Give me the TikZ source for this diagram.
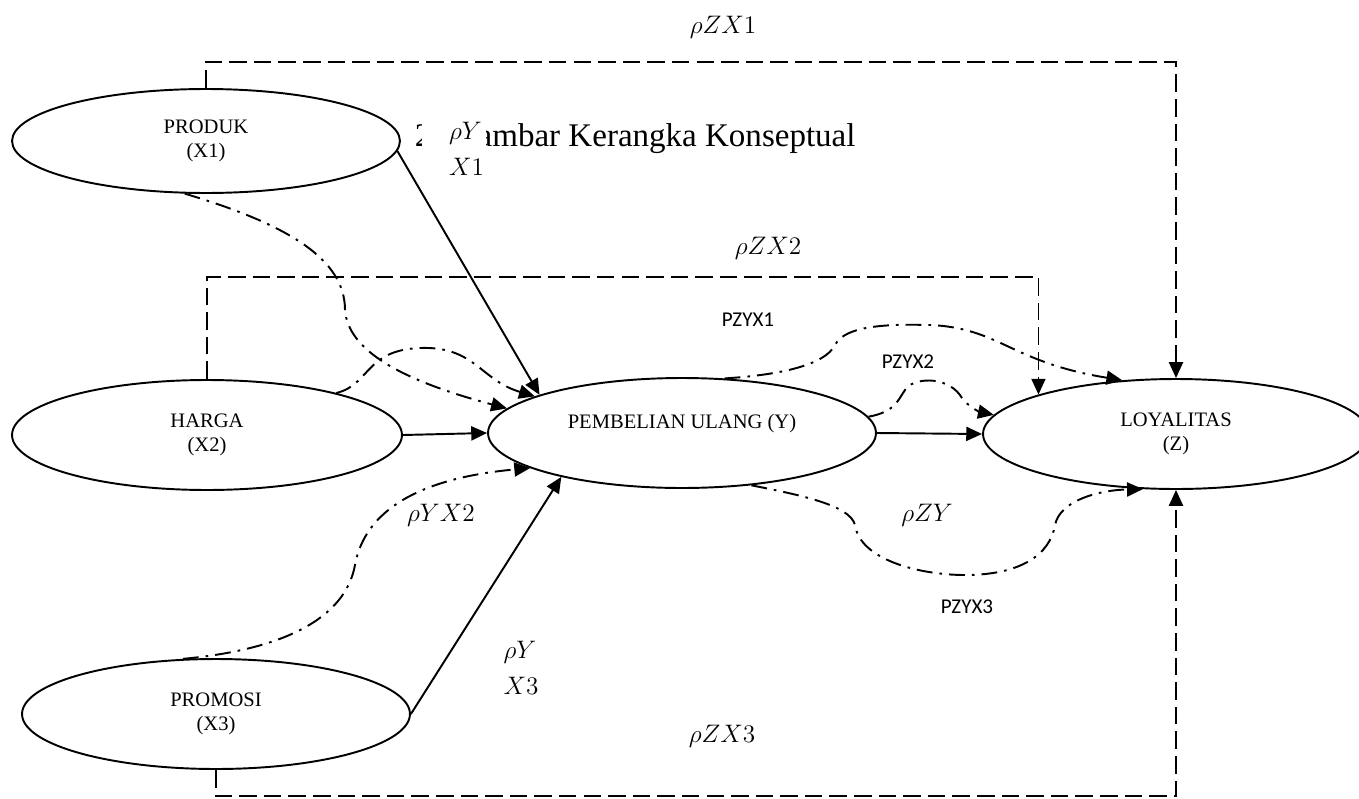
\documentclass[tikz,border=0pt]{standalone}
\usepackage{fontspec}
\setmainfont{Liberation Serif}
\newfontfamily\calfont{Carlito}
\usetikzlibrary{shapes.geometric}
\usetikzlibrary{arrows.meta}

\begin{document}
\begin{tikzpicture}[x=0.02cm,y=-0.02cm,>={Triangle[length=9pt,width=8pt]},line width=1.1pt,
	var node/.style={ellipse,draw,fill=white,inner sep=0pt,align=center,minimum width=7.76cm,minimum height=2.2cm,font=\fontsize{11.7}{13.8}\selectfont},
	rho/.style={font=\fontsize{14}{20.4}\selectfont,inner sep=1pt},
	pz/.style={font=\calfont\fontsize{12}{14}\selectfont,inner sep=1pt},
	dashdot/.style={dash pattern=on 9pt off 4pt on 1.5pt off 4pt},
	dsh/.style={line width=1pt,dash pattern=on 10pt off 4pt}]
	\useasboundingbox (0,0) rectangle (1359,798);
	
	\node[anchor=base west,font=\fontsize{18.8}{22}\selectfont] (judul) at (408,146) {2\hspace{0.45cm}Gambar Kerangka Konseptual};
	
	\node[var node,minimum height=2.08cm] (produk) at (206,141) {PRODUK\\(X1)};
	\node[var node,minimum width=7.8cm] (harga) at (207,435) {HARGA\\(X2)};
	\node[var node] (promosi) at (216,714) {PROMOSI\\(X3)};
	\node[var node] (beli) at (682,433) {PEMBELIAN ULANG (Y)\\ \mbox{}};
	\node[var node,minimum width=7.72cm] (loyal) at (1176,434) {LOYALITAS\\(Z)};
	
	\node[rho] (rzx1) at (723,27) {$\rho ZX1$};
	\node[rho,fill=white,align=left] (ryx1) at (454,149) {\hspace*{0.5cm}$\rho Y$\\\hspace*{0.5cm}$X1$};
	\node[rho] (rzx2) at (768,248) {$\rho ZX2$};
	\node[pz] (pz1) at (748,320) {PZYX1};
	\node[pz] (pz2) at (908,362) {PZYX2};
	\node[rho] (rzy) at (927,515) {$\rho ZY$};
	\node[pz] (pz3) at (967,607) {PZYX3};
	\node[rho] (ryx2) at (441,515) {$\rho YX2$};
	\node[rho,align=left] (ryx3) at (521,668) {$\rho Y$\\$X3$};
	\node[rho] (rzx3) at (722,736) {$\rho ZX3$};
	
	\draw[->] (produk.-3) -- (beli.165);
	\draw[->] (harga.east) -- (beli.west);
	\draw[->] (promosi.east) -- (beli.-160);
	\draw[->] (beli.east) -- (loyal.west);
	
	\coordinate (c1) at (206,62);
	\coordinate (c2) at (207,277);
	\coordinate (c3) at (216,796);
	\draw[dsh,->] (produk.north) -- (c1) -| (loyal.north);
	\draw[dsh,->] (harga.north) -- (c2) -| (loyal.164);
	\draw[dsh,->] (promosi.south) -- (c3) -| (loyal.south);
	
	\draw[dashdot,->] (produk.-112) .. controls (290,225) and (345,260) .. (345,310) .. controls (348,350) and (400,380) .. (beli.172);
	\draw[dashdot,->] (harga.18) .. controls (370,385) and (365,350) .. (420,348) .. controls (475,346) and (480,380) .. (beli.166);
	\draw[dashdot,->] (promosi.121) .. controls (280,650) and (345,620) .. (355,565) .. controls (365,510) and (420,478) .. (beli.193);
	\draw[dashdot,->] (beli.52) .. controls (780,375) and (825,365) .. (835,345) .. controls (845,325) and (890,324) .. (930,325) .. controls (1000,328) and (1010,362) .. (loyal.135);
	\draw[dashdot,->] (beli.5) .. controls (895,412) and (898,400) .. (905,390) .. controls (912,378) and (945,375) .. (960,395) .. controls (965,405) and (980,412) .. (loyal.174);
	\draw[dashdot,->] (beli.-37) .. controls (800,495) and (850,505) .. (855,525) .. controls (860,560) and (920,575) .. (965,575) .. controls (1020,575) and (1050,555) .. (1055,525) .. controls (1060,500) and (1100,490) .. (loyal.-121);
\end{tikzpicture}
\end{document}
